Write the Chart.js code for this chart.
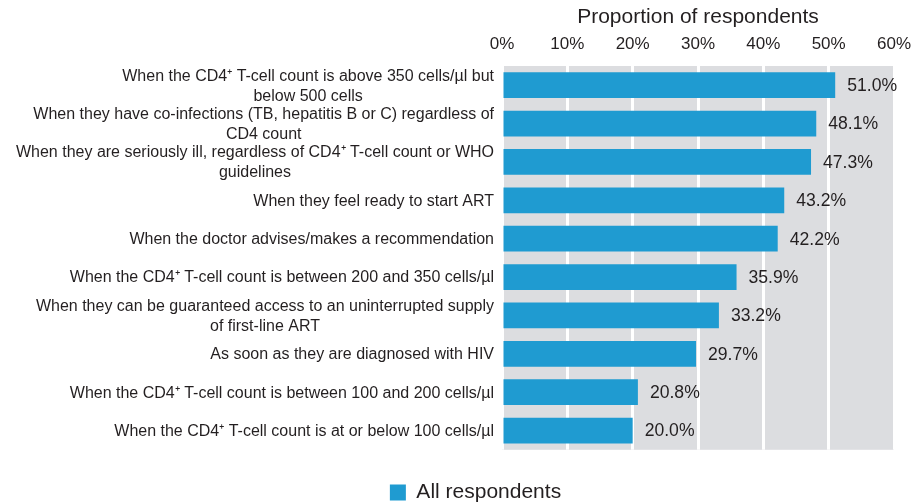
<!DOCTYPE html>
<html>
<head>
<meta charset="utf-8">
<script src="https://cdn.jsdelivr.net/npm/chart.js@4.4.1/dist/chart.umd.min.js"></script>
<style>
  html, body { margin: 0; padding: 0; background: #fff; }
  #wrap { width: 917px; height: 504px; }
</style>
</head>
<body>
<div id="wrap"><canvas id="respChart"></canvas></div>
<script>
// categories (each entry = wrapped lines of the label)
var categories = [
  ["When the CD4\u207A T-cell count is above 350 cells/\u00B5l but", "below 500 cells"],
  ["When they have co-infections (TB, hepatitis B or C) regardless of", "CD4 count"],
  ["When they are seriously ill, regardless of CD4\u207A T-cell count or WHO", "guidelines"],
  ["When they feel ready to start ART"],
  ["When the doctor advises/makes a recommendation"],
  ["When the CD4\u207A T-cell count is between 200 and 350 cells/\u00B5l"],
  ["When they can be guaranteed access to an uninterrupted supply", "of first-line ART"],
  ["As soon as they are diagnosed with HIV"],
  ["When the CD4\u207A T-cell count is between 100 and 200 cells/\u00B5l"],
  ["When the CD4\u207A T-cell count is at or below 100 cells/\u00B5l"]
];
var values = [51.0, 48.1, 47.3, 43.2, 42.2, 35.9, 33.2, 29.7, 20.8, 20.0];
var tickLabels = ['0%', '10%', '20%', '30%', '40%', '50%', '60%'];

var textColor = '#231f20';
var barColor = '#1f9bd1';
var panelColor = '#dcdde0';
var fontFamily = '"Liberation Sans", Arial, sans-serif';

// gray plot background
var panelBg = {
  id: 'panelBg',
  beforeDraw: function (chart) {
    var a = chart.chartArea, ctx = chart.ctx;
    ctx.save();
    ctx.fillStyle = panelColor;
    ctx.fillRect(a.left, a.top, a.right - a.left, a.bottom - a.top);
    ctx.restore();
  }
};

// category labels: block right-aligned to the axis, lines centred inside the block
var catLabels = {
  id: 'catLabels',
  afterDraw: function (chart) {
    var ctx = chart.ctx, y = chart.scales.y;
    var right = chart.chartArea.left - 8;
    var lh = 20;
    ctx.save();
    ctx.font = '16px ' + fontFamily;
    ctx.fillStyle = textColor;
    ctx.textAlign = 'center';
    ctx.textBaseline = 'middle';
    categories.forEach(function (lines, i) {
      var w = 0;
      lines.forEach(function (l) { w = Math.max(w, ctx.measureText(l).width); });
      var cx = right - w / 2;
      var cy = y.getPixelForValue(i) + 1;
      var y0 = cy - (lines.length - 1) * lh / 2;
      lines.forEach(function (l, k) { ctx.fillText(l, cx, y0 + k * lh); });
    });
    ctx.restore();
  }
};

// value labels at the end of each bar
var valueLabels = {
  id: 'valueLabels',
  afterDatasetsDraw: function (chart) {
    var ctx = chart.ctx, meta = chart.getDatasetMeta(0);
    ctx.save();
    ctx.font = '17.6px ' + fontFamily;
    ctx.fillStyle = textColor;
    ctx.textAlign = 'left';
    ctx.textBaseline = 'middle';
    meta.data.forEach(function (bar, i) {
      ctx.fillText(values[i].toFixed(1) + '%', bar.x + 12, bar.y + 1);
    });
    ctx.restore();
  }
};

new Chart(document.getElementById('respChart'), {
  type: 'bar',
  data: {
    labels: categories.map(function (c) { return c.join(' '); }),
    datasets: [{
      label: 'All respondents',
      data: values,
      backgroundColor: barColor,
      borderWidth: 0,
      barPercentage: 0.67,
      categoryPercentage: 1.0
    }]
  },
  options: {
    indexAxis: 'y',
    responsive: true,
    maintainAspectRatio: false,
    animation: false,
    layout: { padding: { left: 57, right: 23, top: 0, bottom: -9 } },
    scales: {
      x: {
        position: 'top',
        min: 0,
        max: 60,
        ticks: {
          stepSize: 10,
          padding: 11,
          color: textColor,
          font: { family: fontFamily, size: 17 },
          callback: function (v, i) { return tickLabels[i]; }
        },
        grid: { color: '#ffffff', lineWidth: 3, drawTicks: false },
        border: { display: false },
        title: {
          display: true,
          text: 'Proportion of respondents',
          color: textColor,
          font: { family: fontFamily, size: 21 },
          padding: { top: 5, bottom: 0 }
        },
        afterFit: function (s) {
          s.height = 66;
          s.paddingLeft = 0;
          s.paddingRight = 0;
        }
      },
      y: {
        ticks: { display: false },
        grid: { display: false },
        border: { display: false },
        afterFit: function (s) { s.width = 445; }
      }
    },
    plugins: {
      legend: {
        position: 'bottom',
        title: {
          display: true,
          text: ' ',
          font: { size: 1 },
          padding: { top: 28, bottom: 0 }
        },
        labels: {
          boxWidth: 16,
          boxHeight: 16,
          padding: 3,
          color: textColor,
          font: { family: fontFamily, size: 21 }
        }
      },
      tooltip: { enabled: false }
    }
  },
  plugins: [panelBg, catLabels, valueLabels]
});
</script>
</body>
</html>
